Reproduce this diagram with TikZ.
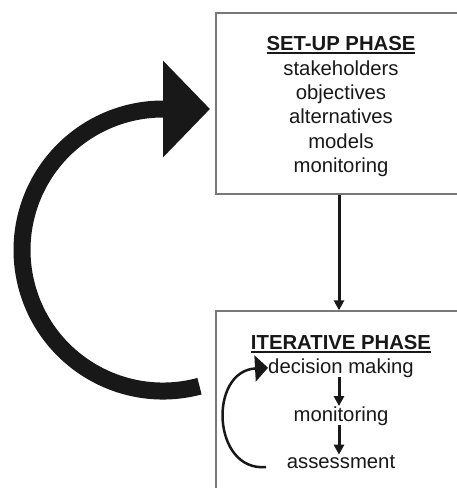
\documentclass[tikz,border=0pt]{standalone}
\usepackage{fontspec}
\setmainfont{Liberation Sans}
\usetikzlibrary{arrows.meta}
\definecolor{ink}{RGB}{24,24,24}
\definecolor{boxgray}{RGB}{120,120,120}
\newcommand\ulbold[1]{\setbox0\hbox{\bfseries #1}\rlap{\color{ink}\rule[-3.6pt]{\wd0}{2pt}}\box0}
\begin{document}
\begin{tikzpicture}[x=1pt,y=-1pt,
  box/.style={draw=boxgray, line width=1.3pt, minimum width=246pt, inner sep=0pt},
  txt/.style={anchor=base, inner sep=0pt, font=\fontsize{20.3pt}{24.4pt}\selectfont, text=ink},
  conn/.style={draw=ink, line width=3pt, -{Triangle[length=10pt,width=10pt]}},
  loopback/.style={draw=ink, line width=2.5pt, -{Triangle[length=13pt,width=26pt]}},
  bigloop/.style={draw=ink, line width=17pt, -{Triangle[length=47pt,width=94pt]}}]
\useasboundingbox (0,0) rectangle (457,488);
% boxes
\node[box, minimum height=181pt] (setup) at (339,103.5) {};
\node[box, minimum height=200pt] (iter) at (339,411) {};
% set-up phase text
\node[txt] (st) at (341,50) {\ulbold{SET-UP PHASE}};
\node[txt] (s1) at (341,75) {stakeholders};
\node[txt] (s2) at (341,99) {objectives};
\node[txt] (s3) at (341,123.5) {alternatives};
\node[txt] (s4) at (341,148) {models};
\node[txt] (s5) at (341,172) {monitoring};
% iterative phase text
\node[txt] (it) at (341,349) {\ulbold{ITERATIVE PHASE}};
\node[txt] (dm) at (341,373) {decision making};
\node[txt] (mon) at (341,421) {monitoring};
\node[txt] (ass) at (341,468) {assessment};
% connectors
\draw[conn] (setup.south) -- (iter.north);
\draw[conn] (dm.south -| iter.north) -- (mon.north -| iter.north);
\draw[conn] (mon.south -| iter.north) -- (ass.north -| iter.north);
\coordinate (cs) at (266,467);
\draw[loopback] (cs) .. controls (212,472) and (208,371) .. (dm.west);
% big loop arrow
\coordinate (bigstart) at (199.5,386.2);
\draw[bigloop] (bigstart) arc[start angle=75, end angle=270, radius=141] -- ++(47,0);
\end{tikzpicture}
\end{document}
